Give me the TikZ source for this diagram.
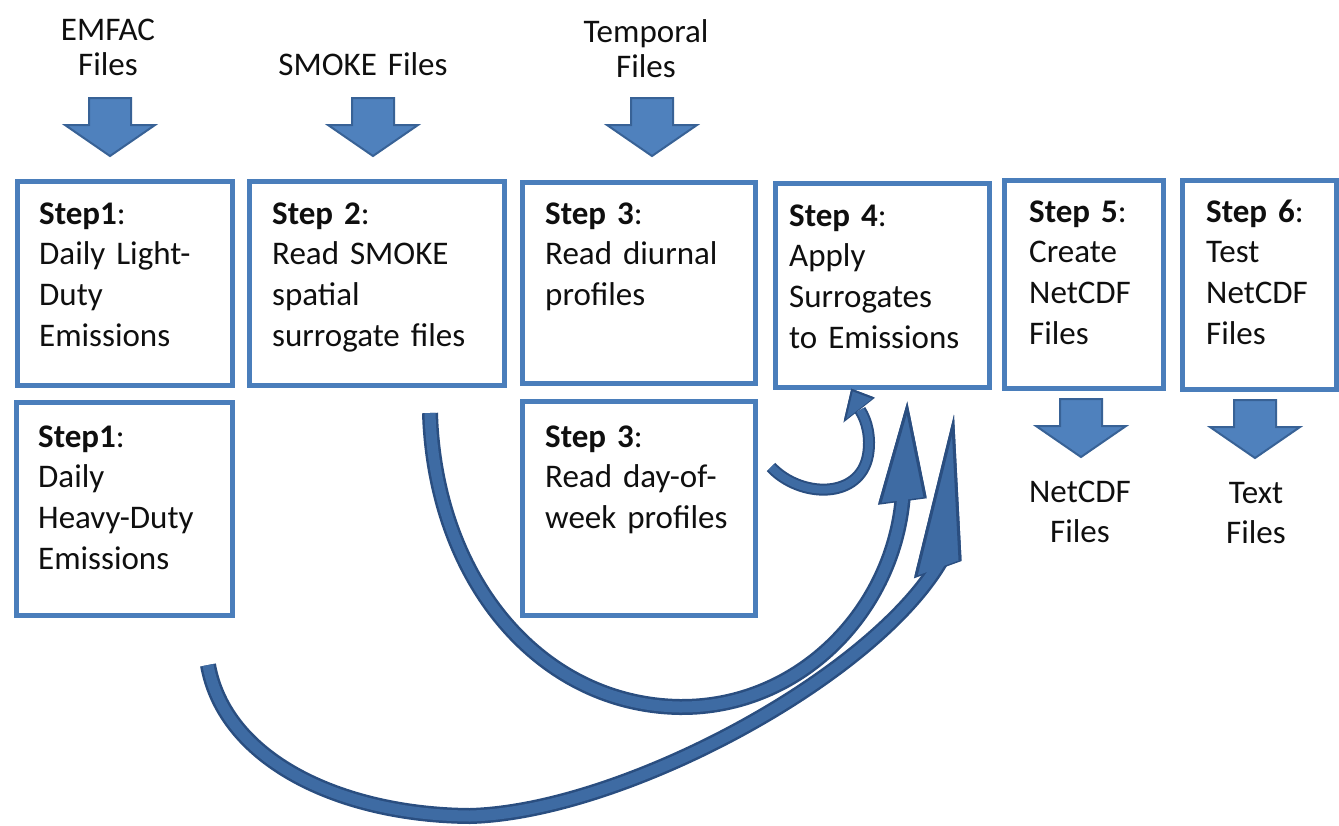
\documentclass[tikz,border=0pt]{standalone}
\usepackage{fontspec}
\setmainfont{Carlito}
\definecolor{boxblue}{RGB}{74,126,187}
\definecolor{arrowfill}{RGB}{79,129,189}
\definecolor{arrowline}{RGB}{56,98,150}
\definecolor{arcfill}{RGB}{62,107,163}
\definecolor{arcdark}{RGB}{42,78,128}
\definecolor{txt}{RGB}{15,15,15}
\begin{document}
\begin{tikzpicture}[x=1pt,y=-1pt,
  stepbox/.style={draw=boxblue, line width=5pt, fill=white, rectangle, inner sep=0pt, anchor=north west},
  steptext/.style={anchor=base west, inner sep=0pt, text width=260pt, align=left, font=\fontsize{33}{40.7}\selectfont, text=txt},
  lbl/.style={anchor=base, inner sep=0pt, text width=240pt, align=center, font=\fontsize{33}{35}\selectfont, text=txt},
  lblb/.style={lbl, font=\fontsize{33}{40}\selectfont},
  shaft/.style={draw=arcdark, line width=2.5pt, double=arcfill, double distance=11pt},
  jshaft/.style={draw=arcdark, line width=2pt, double=arcfill, double distance=8pt},
  headline/.style={draw=arcdark, line width=3pt, line join=miter},
  blockdown/.pic={\filldraw[fill=arrowfill, draw=arrowline, line width=2pt, line join=miter]
     (-21,0) -- (21,0) -- (21,27) -- (45,27) -- (0,58) -- (-45,27) -- (-21,27) -- cycle;}
]
\useasboundingbox[fill=white] (0,0) rectangle (1339,825);

% boxes
\node[stepbox, minimum width=215pt, minimum height=204pt] (b1)  at (15,179) {};
\node[stepbox, minimum width=216pt, minimum height=213pt] (b1b) at (14,400) {};
\node[stepbox, minimum width=255pt, minimum height=204pt] (b2)  at (247,179) {};
\node[stepbox, minimum width=233pt, minimum height=201pt] (b3)  at (520,180) {};
\node[stepbox, minimum width=233pt, minimum height=214pt] (b3b) at (520,399) {};
\node[stepbox, minimum width=214pt, minimum height=204pt] (b4)  at (773,181) {};
\node[stepbox, minimum width=159pt, minimum height=208pt] (b5)  at (1002,178) {};
\node[stepbox, minimum width=154pt, minimum height=209pt] (b6)  at (1180,178) {};

% box texts
\node[steptext] (t1)  at (39,224)   {\textbf{Step1}:\\Daily Light-\\Duty\\Emissions};
\node[steptext] (t1b) at (38,447)   {\textbf{Step1}:\\Daily\\Heavy-Duty\\Emissions};
\node[steptext] (t2)  at (272,224)  {\textbf{Step 2}:\\Read SMOKE\\spatial\\surrogate files};
\node[steptext] (t3)  at (545,224)  {\textbf{Step 3}:\\Read diurnal\\profiles};
\node[steptext] (t3b) at (545,447)  {\textbf{Step 3}:\\Read day-of-\\week profiles};
\node[steptext] (t4)  at (789,226)  {\textbf{Step 4}:\\Apply\\Surrogates\\to Emissions};
\node[steptext] (t5)  at (1029,222) {\textbf{Step 5}:\\Create\\NetCDF\\Files};
\node[steptext] (t6)  at (1206,222) {\textbf{Step 6}:\\Test\\NetCDF\\Files};

% input / output labels
\node[lbl]  (lemfac) at (108,40)  {EMFAC\\Files};
\node[lbl]  (lsmoke) at (363,75)  {SMOKE Files};
\node[lbl]  (ltemp)  at (646,42)  {Temporal\\Files};
\node[lblb] (lnet)   at (1080,502) {NetCDF\\Files};
\node[lblb] (ltext)  at (1256,503) {Text\\Files};

% block arrows
\pic (pe) at (110,98)  {blockdown};
\pic (ps) at (373,98)  {blockdown};
\pic (pt) at (652,98)  {blockdown};
\pic (p5) at (1081,399) {blockdown};
\pic (p6) at (1255,400) {blockdown};

% curved arrow from Step 2 to Step 4
\coordinate (c2s) at (430,413);
\coordinate (c2m) at (680,707);
\coordinate (c2e) at (903,494);
\coordinate (h2l) at (880,503);
\coordinate (h2r) at (925,497);
\coordinate (h2t) at (907,408);
\filldraw[fill=arcfill, headline] (h2l) -- (h2t) -- (h2r) -- cycle;
\draw[shaft] (c2s) .. controls (435,580) and (540,705) .. (c2m)
             .. controls (800,708) and (895,610) .. (c2e);
\fill[arcfill] (h2l) -- (h2t) -- (h2r) -- cycle;
\draw[headline] (h2l) -- (h2t) -- (h2r);

% curved arrow from Step 1 heavy duty to Step 4
\coordinate (c3s) at (208,665);
\coordinate (c3m) at (470,816);
\coordinate (c3e) at (940,562);
\coordinate (h3l) at (916,576);
\coordinate (h3r) at (960,560);
\coordinate (h3t) at (953,425);
\filldraw[fill=arcfill, headline] (h3l) -- (h3t) -- (h3r) -- cycle;
\draw[shaft] (c3s) .. controls (225,760) and (340,815) .. (c3m)
             .. controls (620,812) and (870,680) .. (c3e);
\fill[arcfill] (h3l) -- (h3t) -- (h3r) -- cycle;
\draw[headline] (h3l) -- (h3t) -- (h3r);

% small hook arrow from Step 3 (day-of-week) to Step 4
\coordinate (cjs) at (771,467);
\coordinate (cjm) at (868,455);
\coordinate (cje) at (860,410);
\coordinate (hjl) at (845,420);
\coordinate (hjr) at (873,398);
\coordinate (hjt) at (852,390);
\filldraw[fill=arcfill, draw=arcdark, line width=2pt, line join=miter] (hjl) -- (hjt) -- (hjr) -- cycle;
\draw[jshaft] (cjs) .. controls (800,498) and (860,500) .. (cjm)
              .. controls (871,437) and (867,421) .. (cje);
\fill[arcfill] (hjl) -- (hjt) -- (hjr) -- cycle;
\draw[draw=arcdark, line width=2pt, line join=miter] (hjl) -- (hjt) -- (hjr);
\end{tikzpicture}
\end{document}
